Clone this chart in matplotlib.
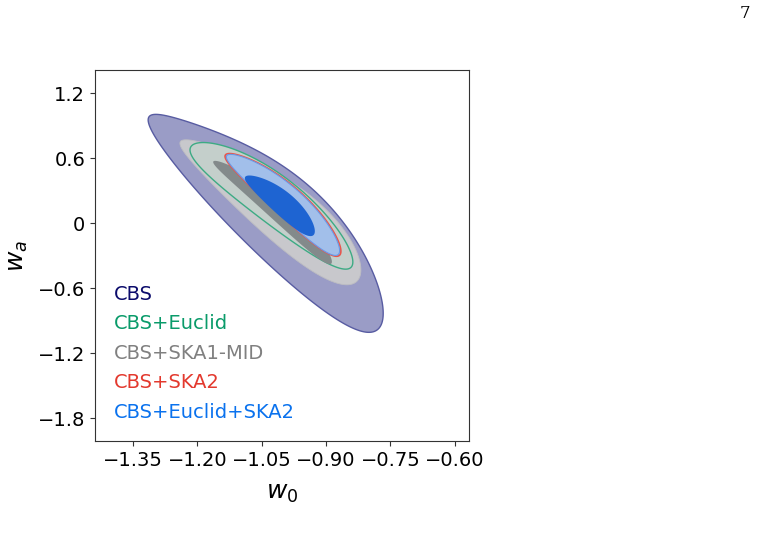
import numpy as np
import matplotlib
matplotlib.use("Agg")
import matplotlib.pyplot as plt

# Tick positions / labels
x_ticks = [-1.35, -1.20, -1.05, -0.90, -0.75, -0.60]
x_tick_labels = ["\u22121.35", "\u22121.20", "\u22121.05", "\u22120.90", "\u22120.75", "\u22120.60"]
y_ticks = [1.2, 0.6, 0.0, -0.6, -1.2, -1.8]
y_tick_labels = ["1.2", "0.6", "0", "\u22120.6", "\u22121.2", "\u22121.8"]

# Legend entries (text only, coloured)
labels = ["CBS", "CBS+Euclid", "CBS+SKA1-MID", "CBS+SKA2", "CBS+Euclid+SKA2"]
label_colors = ["#0b0b6b", "#0a9b6a", "#808080", "#e3392e", "#0a72ee"]

# Contours:
# (w0 centre, wa centre, w0 half-extent, wa tilt, wa half-width, width skew, bend, bend skew)
cbs_2s = (-1.041, 0.0615, 0.274, -0.8925, 0.49, 0.40, 0.075, 1.0)
ska1_2s = (-1.030, 0.154, 0.211, -0.584, 0.321, 0.43, 0.02, 0.0)
euclid_2s = (-1.0276, 0.160, 0.1898, -0.517, 0.269, 0.15, 0.08, 0.0)
ska1_1s = (-1.025, 0.105, 0.1384, -0.46, 0.125, 0.30, 0.06, 0.0)
ska2_2s = (-1.0007, 0.180, 0.135, -0.438, 0.181, 0.29, 0.055, 0.0)
comb_2s = (-1.0007, 0.180, 0.132, -0.432, 0.176, 0.29, 0.054, 0.0)
comb_1s = (-1.008, 0.172, 0.0816, -0.2445, 0.136, 0.30, 0.028, 0.0)


def contour_xy(p, n=400):
    cx, cy, hx, tilt, hw, skew, bend, bskew = p
    t = np.linspace(0, 2 * np.pi, n)
    c, s = np.cos(t), np.sin(t)
    x = cx + hx * c
    y = cy + tilt * c + hw * (1 + skew * c) * s + bend * (1 + bskew * c) * s ** 2
    return x, y


fig = plt.figure(figsize=(7.58, 5.49), dpi=100)
ax = fig.add_axes([0.1253, 0.1967, 0.4934, 0.6758])

x, y = contour_xy(cbs_2s)
ax.fill(x, y, facecolor="#9a9cc6", edgecolor="#585ca2", lw=1.0)
x, y = contour_xy(ska1_2s)
ax.fill(x, y, facecolor="#c8c8cc", edgecolor="#bdbdc2", lw=0.6)
x, y = contour_xy(euclid_2s)
ax.fill(x, y, facecolor="#c4cfcb", edgecolor="#3dab84", lw=1.0)
x, y = contour_xy(ska1_1s)
ax.fill(x, y, facecolor="#838a8b", edgecolor="none")
x, y = contour_xy(ska2_2s)
ax.fill(x, y, facecolor="#a2bfea", edgecolor="#e8564c", lw=1.2)
x, y = contour_xy(comb_2s)
ax.fill(x, y, facecolor="#a2bfea", edgecolor="#6a9ae6", lw=0.8)
x, y = contour_xy(comb_1s)
ax.fill(x, y, facecolor="#1e64d2", edgecolor="none")

ax.set_xlim(-1.439, -0.567)
ax.set_ylim(-2.01, 1.415)
ax.set_xticks(x_ticks)
ax.set_xticklabels(x_tick_labels, fontsize=14)
ax.set_yticks(y_ticks)
ax.set_yticklabels(y_tick_labels, fontsize=14)
ax.set_xlabel("$w_0$", fontsize=18, labelpad=8)
ax.set_ylabel("$w_a$", fontsize=18, labelpad=6)
for s in ax.spines.values():
    s.set_color("#333333")
ax.tick_params(colors="#333333", labelcolor="black")

# coloured text legend
for i, (lab, col) in enumerate(zip(labels, label_colors)):
    ax.text(0.051, 0.396 - 0.0795 * i, lab, color=col, fontsize=14,
            transform=ax.transAxes, va="center", ha="left")

# page number
fig.text(0.983, 0.975, "7", fontsize=12, family="DejaVu Serif", ha="center", va="center")

fig.savefig("out.png", dpi=100)
